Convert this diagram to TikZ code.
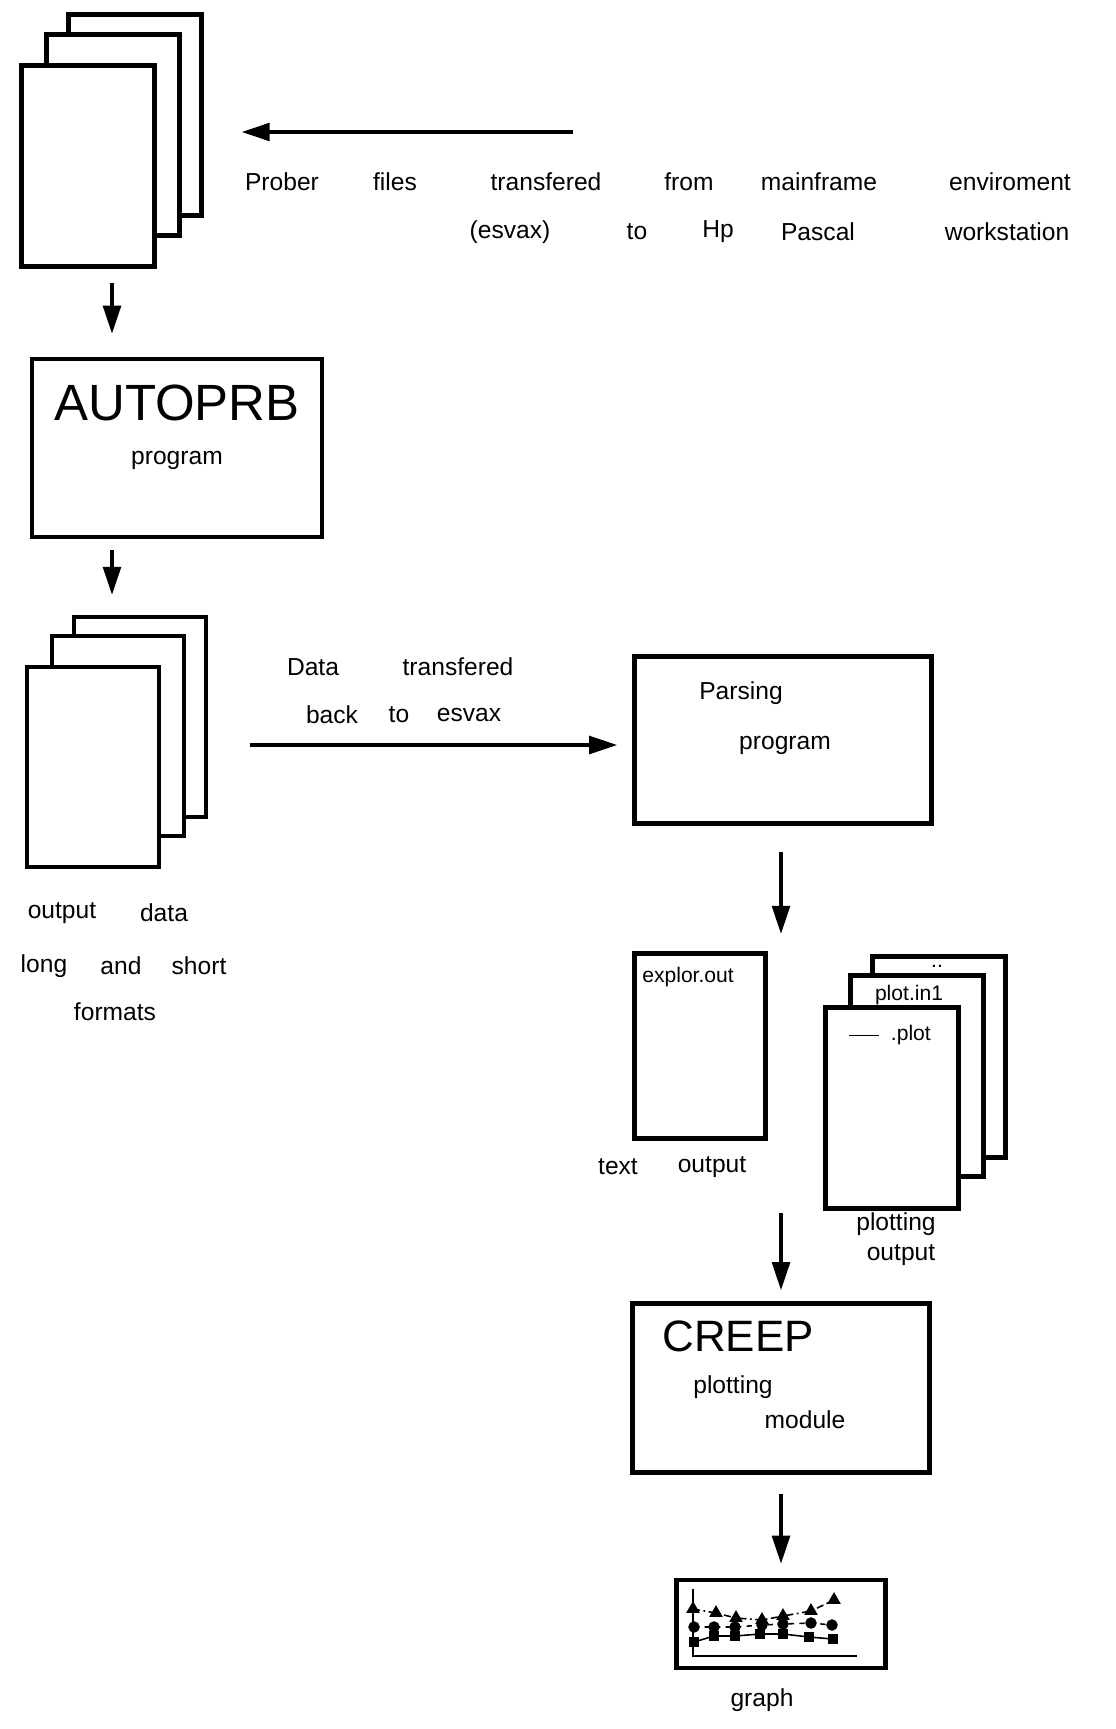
\documentclass[tikz,border=0pt]{standalone}
\usepackage{fontspec}
\setmainfont{Liberation Sans}
\usetikzlibrary{arrows.meta,positioning,plotmarks}

\begin{document}
\begin{tikzpicture}[x=0.02cm,y=-0.02cm,
  page/.style={draw,line width=2.4pt,fill=white,minimum width=2.66cm,minimum height=4.02cm,inner sep=0pt},
  box/.style={draw,line width=2.5pt,inner sep=0pt},
  arr/.style={line width=2.2pt,-{Triangle[length=16pt,width=10pt]}},
  hand/.style={font=\fontsize{14}{16}\selectfont,inner sep=0pt},
  small/.style={font=\fontsize{12}{14}\selectfont,inner sep=0pt},
  big/.style={font=\fontsize{29}{32}\selectfont,inner sep=0pt}]
\useasboundingbox (0,0) rectangle (1116,1729);

% prober files
\node[page] (topback) at (135,115) {};
\node[page] (topmid) at (113,135) {};
\node[page] (topfront) at (88,166) {};

\coordinate (mainframe) at (573,132);
\draw[arr,shorten >=0.76cm] (mainframe) -- (topback.east |- mainframe);
\foreach \w/\x [count=\i] in {Prober/282,files/395,transfered/546,from/689,mainframe/819,enviroment/1010}
  \node[hand] (ta\i) at (\x,182) {\w};
\foreach \w/\x [count=\i] in {{(esvax)}/510,to/637,Hp/718,Pascal/818,workstation/1007}
  \node[hand] (tb\i) at (\x,232) {\w};

% AUTOPRB
\node[box,minimum width=5.8cm,minimum height=3.56cm] (autoprb) at (177,448) {};
\node[big] (autoprbname) at (177,403) {AUTOPRB};
\node[hand] (autoprbprog) at (177,460) {program};
\draw[arr,shorten <=0.28cm,shorten >=0.46cm] (topfront.south -| 112,0) -- (autoprb.north -| 112,0);

% output data
\node[page,minimum width=2.64cm,minimum height=4cm] (midback) at (140,717) {};
\node[page,minimum width=2.64cm,minimum height=4cm] (midmid) at (118,736) {};
\node[page,minimum width=2.64cm,minimum height=4cm] (midfront) at (93,767) {};
\draw[arr,shorten <=0.22cm,shorten >=0.4cm] (autoprb.south -| 112,0) -- (midback.north -| 112,0);
\foreach \w/\x/\y [count=\i] in {output/62/913,data/164/913,long/44/966,and/121/966,short/199/966,formats/115/1012}
  \node[hand] (od\i) at (\x,\y) {\w};

% back to esvax
\node[box,minimum width=5.94cm,minimum height=3.34cm] (parse) at (783,740) {};
\node[hand] (parse1) at (741,693) {Parsing};
\node[hand] (parse2) at (785,745) {program};
\draw[arr,shorten <=0.84cm,shorten >=0.3cm] (midback.east |- 0,745) -- (parse.west |- 0,745);
\foreach \w/\x/\y [count=\i] in {Data/313/667,transfered/458/667,back/332/715,to/399/715,esvax/469/715}
  \node[hand] (dt\i) at (\x,\y) {\w};

% parser output
\coordinate (outs) at (781,934);
\draw[arr,shorten <=0.52cm] (parse.south -| outs) -- (outs);
\node[page,minimum width=2.62cm,minimum height=3.7cm] (explor) at (700,1046) {};
\node[small,anchor=west] (explorname) at (642,977) {explor.out};
\node[hand] (txt1) at (618,1167) {text};
\node[hand] (txt2) at (712,1167) {output};

\node[page] (plotback) at (939,1057) {};
\node[page] (plotmid) at (917,1076) {};
\node[page] (plotfront) at (892,1108) {};
\node[small] (plotdots) at (937,966) {..};
\node[small] (plotin) at (909,995) {plot.in1};
\node[small] (plotname) at (890,1035) {\rule[0.4ex]{0.6cm}{0.8pt}~~.plot};
\node[hand] (po1) at (896,1224) {plotting};
\node[hand] (po2) at (901,1255) {output};

% CREEP
\coordinate (ins) at (781,1213);
\node[box,minimum width=5.94cm,minimum height=3.38cm] (creep) at (781,1388) {};
\node[font=\fontsize{25}{28}\selectfont,inner sep=0pt] (creepname) at (738,1336) {CREEP};
\node[hand] (creep1) at (733,1387) {plotting};
\node[hand] (creep2) at (805,1420) {module};
\draw[arr,shorten >=0.22cm] (ins) -- (creep.north -| ins);

% graph
\node[box,minimum width=4.18cm,minimum height=1.76cm] (graph) at (781,1624) {};
\draw[arr,shorten <=0.38cm,shorten >=0.28cm] (creep.south) -- (graph.north);
\draw[line width=1.2pt] (693,1589) -- (693,1656) -- (857,1656);
\draw[line width=0.9pt,dash pattern=on 4pt off 2pt on 1pt off 2pt]
  plot[mark=triangle*,mark size=3.6pt,mark options={solid}] coordinates
  {(693,1609) (716,1613) (736,1618) (762,1620) (783,1616) (811,1611) (834,1600)};
\draw[line width=0.9pt,dashed]
  plot[mark=*,mark size=2.8pt,mark options={solid}] coordinates
  {(694,1627) (714,1627) (735,1627) (762,1625) (783,1624) (811,1623) (832,1625)};
\draw[line width=0.9pt]
  plot[mark=square*,mark size=2.6pt] coordinates
  {(694,1642) (714,1636) (735,1636) (760,1634) (783,1634) (809,1637) (833,1639)};
\node[hand] (graphname) at (762,1700) {graph};
\end{tikzpicture}
\end{document}
